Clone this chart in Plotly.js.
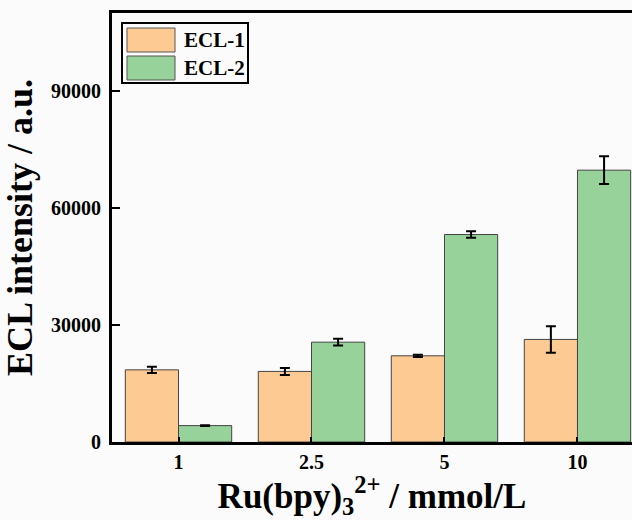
<!DOCTYPE html>
<html>
<head>
<meta charset="utf-8">
<script src="https://cdn.plot.ly/plotly-3.0.1.min.js"></script>
<style>html,body{margin:0;padding:0;background:#fbfbfb;}#chart{width:632px;height:520px;}</style>
</head>
<body>
<div id="chart"></div>
<script>
const categories = ["1", "2.5", "5", "10"];
const ecl1 = [18500, 18100, 22100, 26300];
const ecl1Err = [800, 900, 300, 3400];
const ecl2 = [4200, 25600, 53200, 69700];
const ecl2Err = [100, 850, 850, 3550];
const seriesNames = ["ECL-1", "ECL-2"];
const yTicks = [0, 30000, 60000, 90000];

const orange = "#FDCA93";
const green = "#96D29A";
const fontFam = "Liberation Serif, Times New Roman, serif";

const traces = [
  {type: "bar", name: seriesNames[0], x: categories, y: ecl1,
   marker: {color: orange, line: {color: "#444", width: 1}},
   error_y: {type: "data", array: ecl1Err, visible: true, color: "#000", thickness: 2, width: 5},
   showlegend: false},
  {type: "bar", name: seriesNames[1], x: categories, y: ecl2,
   marker: {color: green, line: {color: "#444", width: 1}},
   error_y: {type: "data", array: ecl2Err, visible: true, color: "#000", thickness: 2, width: 5},
   showlegend: false}
];

const W = 520, H = 429, L = 112, T = 13;
function px(x) { return (x - L) / W; }
function py(y) { return (T + H - y) / H; }

const shapes = [
  {type: "rect", xref: "paper", yref: "paper", x0: px(122), x1: px(248), y0: py(83), y1: py(23),
   line: {color: "#000", width: 2}, fillcolor: "rgba(0,0,0,0)"},
  {type: "rect", xref: "paper", yref: "paper", x0: px(127), x1: px(175), y0: py(52), y1: py(28),
   line: {color: "#555", width: 1}, fillcolor: orange},
  {type: "rect", xref: "paper", yref: "paper", x0: px(127), x1: px(175), y0: py(80), y1: py(56),
   line: {color: "#555", width: 1}, fillcolor: green}
];

const annotations = [
  {xref: "paper", yref: "paper", x: px(182), y: py(40), xanchor: "left", yanchor: "middle",
   text: seriesNames[0], showarrow: false, font: {family: fontFam, size: 21, color: "#000", weight: "bold"}},
  {xref: "paper", yref: "paper", x: px(182), y: py(68), xanchor: "left", yanchor: "middle",
   text: seriesNames[1], showarrow: false, font: {family: fontFam, size: 21, color: "#000", weight: "bold"}}
];

const layout = {
  width: 632, height: 520,
  margin: {l: L, r: 0, t: T, b: 520 - T - H},
  paper_bgcolor: "#fbfbfb", plot_bgcolor: "#fbfbfb",
  font: {family: fontFam, color: "#000", weight: "bold"},
  barmode: "group", bargap: 0.2, bargroupgap: 0,
  xaxis: {
    type: "category", range: [-0.5, 3.41],
    showline: true, linecolor: "#000", linewidth: 3, mirror: true,
    ticks: "inside", ticklen: 5, tickwidth: 2, tickcolor: "#000",
    tickfont: {family: fontFam, size: 20, weight: "bold"},
    showgrid: false, zeroline: false,
    title: {text: "Ru(bpy)<sub>3</sub><sup>2+</sup> / mmol/L", font: {family: fontFam, size: 35, weight: "bold"}, standoff: 18}
  },
  yaxis: {
    range: [0, 110000], tickvals: yTicks, ticktext: yTicks.map(String),
    showline: true, linecolor: "#000", linewidth: 3, mirror: false,
    ticks: "inside", ticklen: 8, tickwidth: 2, tickcolor: "#000",
    tickfont: {family: fontFam, size: 20, weight: "bold"},
    ticklabelstandoff: 4,
    showgrid: false, zeroline: false,
    title: {text: "ECL intensity / a.u.", font: {family: fontFam, size: 36, weight: "bold"}, standoff: 8}
  },
  shapes: shapes,
  annotations: annotations
};

Plotly.newPlot("chart", traces, layout, {displayModeBar: false, staticPlot: true});
</script>
</body>
</html>
